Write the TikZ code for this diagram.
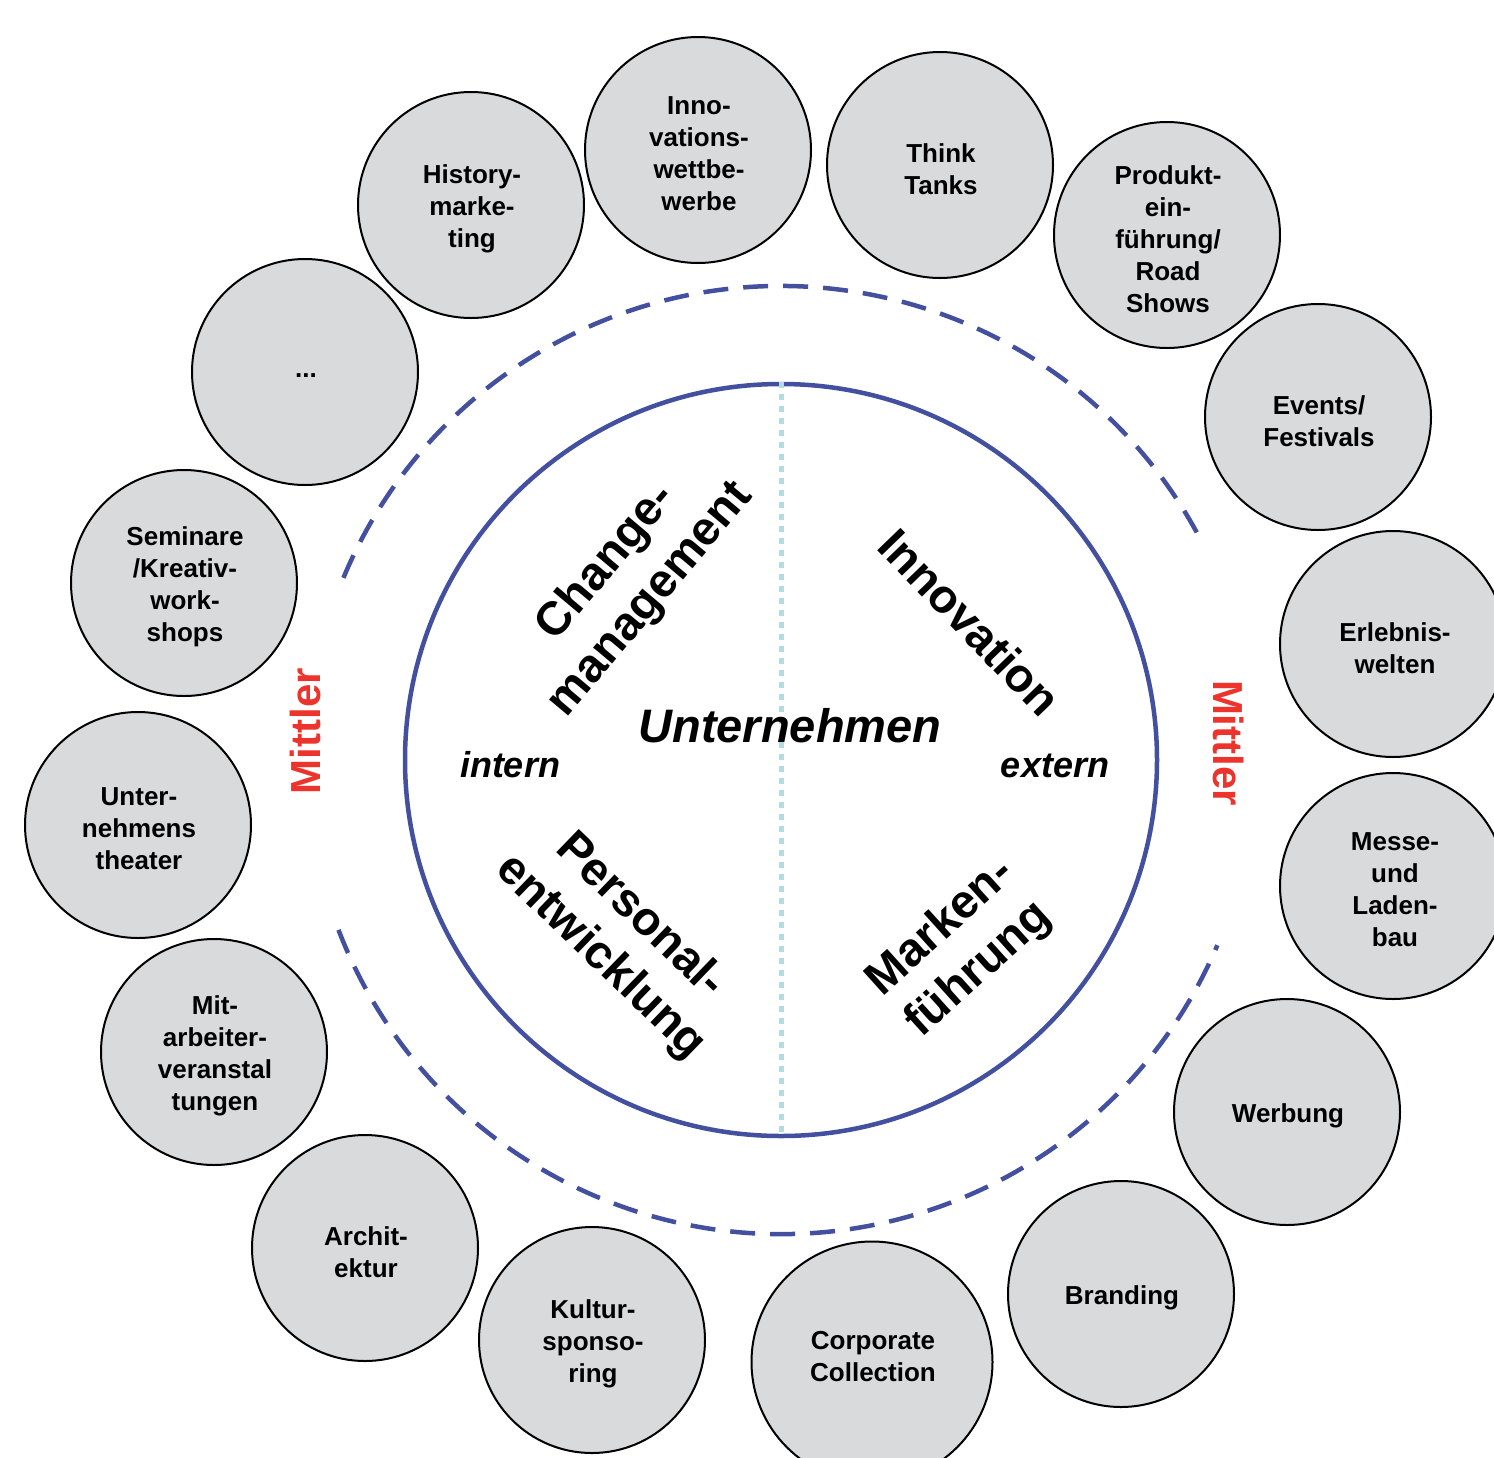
\documentclass[tikz,border=0pt]{standalone}
\usepackage{fontspec}
\setmainfont{Liberation Sans}
\definecolor{bubfill}{RGB}{217,218,220}
\definecolor{mblue}{RGB}{67,80,160}
\definecolor{mcyan}{RGB}{176,221,226}
\definecolor{mred}{RGB}{236,52,45}
\begin{document}
\begin{tikzpicture}[x=1pt,y=1pt,
  bub/.style={circle, draw=black, line width=2pt, fill=bubfill, minimum size=226pt, inner sep=0pt},
  bubtxt/.style={align=center, inner sep=0pt, font=\bfseries\fontsize{26}{32}\selectfont},
  big/.style={align=center, inner sep=0pt, font=\bfseries\fontsize{47}{57}\selectfont},
  bigit/.style={inner sep=0pt, anchor=base, font=\bfseries\itshape\fontsize{47}{57}\selectfont},
  side/.style={inner sep=0pt, anchor=base, font=\bfseries\itshape\fontsize{36}{40}\selectfont},
  mittler/.style={inner sep=0pt, text=mred, font=\bfseries\fontsize{42}{48}\selectfont},
  dashline/.style={draw=mblue, line width=4.5pt, dash pattern=on 25pt off 15pt},
  coreline/.style={draw=mblue, line width=4.5pt},
  axisline/.style={draw=mcyan, line width=5pt, dash pattern=on 6pt off 6pt}]
\useasboundingbox (0,0) rectangle (1494,-1457);
\clip (0,0) rectangle (1494,-1457);

% outer dashed arcs
\coordinate (ctr) at (781,-760);
\draw[dashline] (ctr) ++(28.7:474) arc[start angle=28.7, end angle=157.4, radius=474];
\draw[dashline] (ctr) ++(201:474) arc[start angle=201, end angle=337, radius=474];

% core circle
\node[circle, coreline, minimum size=752pt, inner sep=0pt] (core) at (ctr) {};
\draw[axisline] (core.north) -- (core.south);

% central texts
\node[bigit] (unt) at (790,-742) {Unternehmen};
\node[side] (intern) at (510,-777) {intern};
\node[side] (extern) at (1055,-777) {extern};

\node[big, rotate=50] (change) at (629,-581) {Change-\\management};
\node[big, rotate=-46] (innov) at (970,-622) {Innovation};
\node[big, rotate=-44] (perso) at (620,-937) {Personal-\\entwicklung};
\node[big, rotate=42] (marke) at (960,-949) {Marken-\\führung};

\node[mittler, rotate=90] (mL) at (305,-731) {Mittler};
\node[mittler, rotate=-90] (mR) at (1228,-743) {Mittler};

% bubbles
\node[bub] (b1) at (471,-205) {};
\node[bub] (b2) at (698,-150) {};
\node[bub] (b3) at (940,-165) {};
\node[bub] (b4) at (1167,-235) {};
\node[bub] (b5) at (1318,-417) {};
\node[bub] (b6) at (1393,-644) {};
\node[bub] (b7) at (1393,-886) {};
\node[bub] (b8) at (1287,-1112) {};
\node[bub] (b9) at (1121,-1294) {};
\node[bub, minimum size=241pt] (b10) at (872,-1362) {};
\node[bub] (b11) at (592,-1340) {};
\node[bub] (b12) at (365,-1248) {};
\node[bub] (b13) at (214,-1052) {};
\node[bub] (b14) at (138,-825) {};
\node[bub] (b15) at (184,-583) {};
\node[bub] (b16) at (305,-372) {};

\node[bubtxt] (t1) at ([xshift=1pt,yshift=-4pt]b1) {History-\\marke-\\ting};
\node[bubtxt] (t2) at ([xshift=1pt,yshift=-4pt]b2) {Inno-\\vations-\\wettbe-\\werbe};
\node[bubtxt] (t3) at ([xshift=1pt,yshift=-4pt]b3) {Think\\Tanks};
\node[bubtxt] (t4) at ([xshift=1pt,yshift=-4pt]b4) {Produkt-\\ein-\\führung/\\Road\\Shows};
\node[bubtxt] (t5) at ([xshift=1pt,yshift=-4pt]b5) {Events/\\Festivals};
\node[bubtxt] (t6) at ([xshift=2pt,yshift=-4pt]b6) {Erlebnis-\\welten};
\node[bubtxt] (t7) at ([xshift=2pt,yshift=-4pt]b7) {Messe-\\und\\Laden-\\bau};
\node[bubtxt] (t8) at ([xshift=1pt,yshift=-4pt]b8) {Werbung};
\node[bubtxt] (t9) at ([xshift=1pt,yshift=-4pt]b9) {Branding};
\node[bubtxt] (t10) at ([xshift=1pt,yshift=5pt]b10) {Corporate\\Collection};
\node[bubtxt] (t11) at ([xshift=1pt,yshift=-4pt]b11) {Kultur-\\sponso-\\ring};
\node[bubtxt] (t12) at ([xshift=1pt,yshift=-4pt]b12) {Archit-\\ektur};
\node[bubtxt] (t13) at ([xshift=1pt,yshift=-4pt]b13) {Mit-\\arbeiter-\\veranstal\\tungen};
\node[bubtxt] (t14) at ([xshift=1pt,yshift=-4pt]b14) {Unter-\\nehmens\\theater};
\node[bubtxt] (t15) at ([xshift=1pt,yshift=-4pt]b15) {Seminare\\/Kreativ-\\work-\\shops};
\node[bubtxt] (t16) at ([xshift=1pt,yshift=-4pt]b16) {...};
\end{tikzpicture}
\end{document}
